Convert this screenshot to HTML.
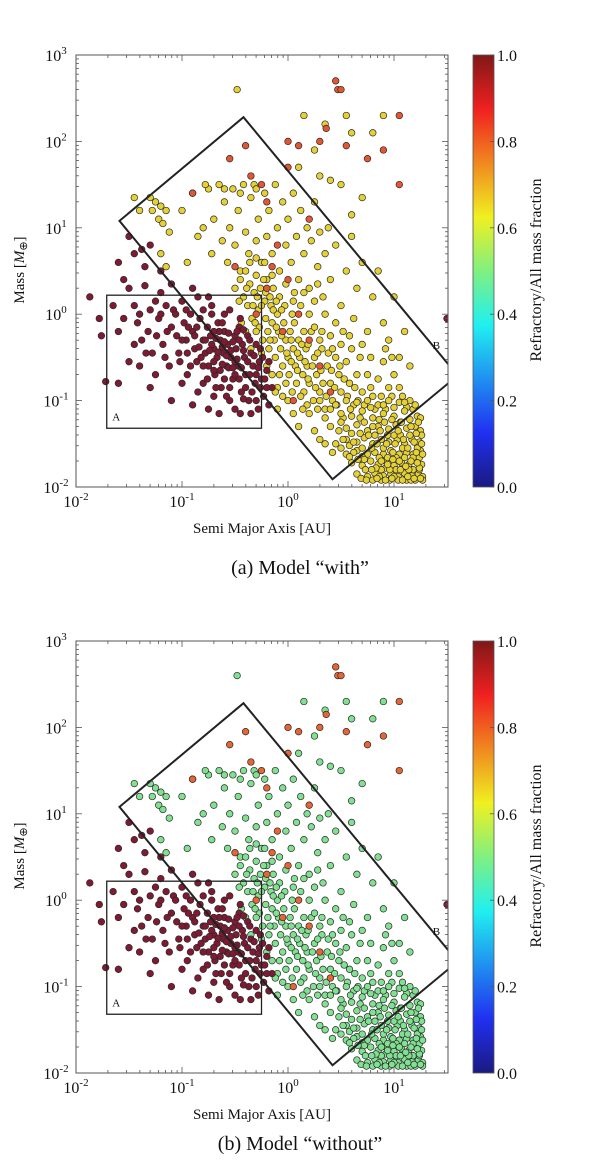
<!DOCTYPE html>
<html><head><meta charset="utf-8"><style>
html,body{margin:0;padding:0;background:#fff}
svg{display:block}
text{font-family:"Liberation Serif",serif;fill:#111}
</style></head><body>
<svg id="fig" width="600" height="1167" viewBox="0 0 600 1167" xmlns="http://www.w3.org/2000/svg">
<defs>
<linearGradient id="jet" x1="0" y1="1" x2="0" y2="0">
<stop offset="0" stop-color="#1a1a80"/><stop offset="0.125" stop-color="#2030f0"/><stop offset="0.375" stop-color="#20f0f0"/><stop offset="0.5" stop-color="#80f080"/><stop offset="0.625" stop-color="#f0f020"/><stop offset="0.875" stop-color="#f02020"/><stop offset="1" stop-color="#801818"/>
</linearGradient>
<clipPath id="clipA"><rect x="76" y="55" width="372" height="432"/></clipPath>
<clipPath id="clipB"><rect x="76" y="641" width="372" height="432"/></clipPath>
</defs>
</svg>
<script>
// data: [log10 a, log10 mass]
const redPts=[[-1.87,0.2],[-1.78,-0.05],[-1.76,-0.25],[-1.72,-0.78],[-1.6,-0.8],[-1.55,0.4],[-1.5,-0.55],[-1.45,0.1],[-1.42,-0.1],[-1.4,0.0],[-1.38,-0.3],[-1.35,0.33],[-1.32,-0.2],[-1.3,0.05],[-1.28,-0.45],[-1.25,0.15],[-1.22,-0.05],[-1.2,0.25],[-1.18,-0.35],[-1.15,0.1],[-1.12,-0.6],[-1.1,-0.15],[-1.08,0.05],[-1.05,-0.25],[-1.03,-0.45],[-1.0,0.15],[-0.98,-0.1],[-0.96,-0.3],[-0.95,-0.7],[-0.92,0.0],[-0.9,-0.2],[-0.88,-0.4],[-0.86,-0.55],[-0.85,0.2],[-0.83,-0.05],[-0.8,-0.3],[-0.8,-0.8],[-0.78,-0.45],[-0.76,-0.15],[-0.75,-0.6],[-0.73,-0.25],[-0.72,0.1],[-0.7,-0.4],[-0.69,-0.7],[-0.67,-0.5],[-0.66,-0.1],[-0.64,-0.3],[-0.63,-0.85],[-0.61,-0.45],[-0.6,-0.2],[-0.58,-0.6],[-0.57,-0.35],[-0.55,0.05],[-0.54,-0.5],[-0.52,-0.75],[-0.5,-0.25],[-0.49,-0.4],[-0.47,-0.6],[-0.46,-0.15],[-0.44,-0.9],[-0.43,-0.35],[-0.41,-0.5],[-0.4,-0.7],[-0.38,-0.25],[-0.37,-1.0],[-0.35,-0.45],[-0.33,-0.6],[-0.31,-0.8],[-0.3,-0.35],[-0.28,-1.1],[-0.27,-0.55],[-0.25,-0.75],[-0.23,-0.95],[-0.2,-0.65],[-0.18,-1.05],[-0.35,-1.15],[-0.55,-1.0],[-0.75,-1.1],[-0.9,-1.05],[-1.1,-1.0],[-1.3,-0.85],[-0.65,-1.15],[-0.45,-1.15],[-0.15,-0.85],[-0.72,-0.35],[-0.68,-0.28],[-0.62,-0.38],[-0.58,-0.48],[-0.52,-0.32],[-0.48,-0.52],[-0.42,-0.42],[-0.56,-0.62],[-0.62,-0.58],[-0.7,-0.55],[-0.78,-0.3],[-0.82,-0.5],[-0.88,-0.25],[-0.95,-0.45],[-1.0,-0.3],[-0.65,-0.2],[-0.5,-0.7],[-0.4,-0.85],[-0.34,-0.9],[-0.3,-0.7],[-0.24,-0.5],[-0.2,-0.85],[-0.45,-0.05],[-0.6,0.0],[-0.75,0.2],[-0.9,0.3],[-1.1,0.35],[-1.2,0.5],[-1.35,0.55],[-1.5,0.3],[-1.6,-0.2],[-1.65,0.1],[-1.4,-0.6],[-1.25,-0.7],[-1.0,-0.8],[-0.85,-0.9],[-0.7,-0.95],[-0.55,-0.85],[-0.6,-0.75],[-0.46,-0.75],[-1.6,0.6],[-1.5,0.9],[-1.45,0.7],[1.5,-0.05],[-1.3,0.8],[-1.38,0.75],
[-0.74,-0.42],[-0.66,-0.44],[-0.6,-0.32],[-0.54,-0.42],[-0.5,-0.55],[-0.44,-0.62],[-0.38,-0.55],[-0.36,-0.7],[-0.28,-0.62],[-0.26,-0.85],[-0.32,-0.48],[-0.46,-0.3],[-0.56,-0.22],[-0.64,-0.65],[-0.7,-0.2],[-0.8,-0.6],[-0.86,-0.15],[-0.92,-0.6],[-1.02,-0.55],[-1.06,0.0],[-1.14,-0.2],[-1.16,-0.5],[-1.24,-0.25],[-0.76,-0.75],[-0.68,-0.85],[-0.58,-0.95],[-0.42,-0.98],[-0.5,-1.1],[-0.3,-1.0],[-0.22,-0.75],[-0.48,-0.2],[-0.42,-0.18],[-0.84,-0.38],[-0.94,-0.15],[-0.96,0.05],[-1.2,0.0],[-0.62,-0.1],[-0.72,0.0],[-0.8,0.05],[-0.7,-0.65],[-0.52,-0.62],[-0.36,-0.3],[-0.26,-0.4],[-0.18,-0.55],[-1.34,-0.45],[-1.45,-0.35],[-1.55,-0.05]];
const orangePts=[[0.45,2.7],[0.47,2.6],[0.5,2.6],[0.36,2.15],[0.0,2.0],[-0.4,1.95],[-0.55,1.8],[-0.35,1.6],[-0.25,1.5],[-0.2,1.3],[0.1,1.95],[0.3,2.0],[0.55,1.95],[0.75,1.8],[0.9,1.9],[1.05,2.3],[1.05,1.5],[0.2,1.1],[-0.1,0.8],[0.0,0.4],[-0.5,0.55],[-0.2,0.3],[0.2,-0.3],[0.3,-0.6],[0.4,-0.9],[-0.05,-0.2],[0.05,-1.0],[-0.9,1.4],[0.0,1.7],[-0.15,0.55],[0.1,0.0],[-0.3,0.0]];
const yellowPts=[[-1.3,1.35],[-1.28,1.2],[-1.25,1.3],[-1.22,1.1],[-1.2,1.25],[-1.18,1.05],[-1.15,1.2],[-1.12,0.95],[-1.2,0.7],[-1.15,0.55],[-1.4,1.2],[-1.45,1.35],[-1.0,1.2],[-0.95,0.6],[-0.9,1.4],[-0.85,0.9],[-0.8,1.0],[-0.75,1.45],[-0.72,0.7],[-0.7,1.1],[-0.65,1.5],[-0.62,0.85],[-0.6,1.3],[-0.57,0.6],[-0.55,1.0],[-0.52,1.45],[-0.5,0.8],[-0.47,1.2],[-0.45,0.5],[-0.42,1.5],[-0.4,0.95],[-0.37,0.7],[-0.35,1.35],[-0.32,1.5],[-0.3,0.85],[-0.28,1.1],[-0.25,0.6],[-0.22,1.4],[-0.2,0.9],[-0.18,1.2],[-0.15,0.7],[-0.12,1.5],[-0.1,1.0],[-0.08,0.5],[-0.05,1.3],[-0.02,0.8],[0.0,1.1],[0.03,0.6],[0.05,1.4],[0.08,0.9],[0.1,0.4],[0.12,1.2],[0.15,0.7],[0.18,1.0],[0.2,0.3],[0.22,0.85],[0.25,1.3],[0.28,0.55],[0.3,0.95],[0.33,0.2],[0.35,0.7],[0.38,1.0],[0.4,0.4],[0.45,0.8],[0.5,0.1],[0.55,0.5],[0.6,0.9],[0.62,-0.05],[0.65,0.3],[0.7,0.6],[0.75,-0.2],[0.8,0.2],[0.85,0.5],[0.9,-0.1],[0.95,-0.3],[1.0,0.2],[1.05,-0.5],[1.1,-0.2],[1.15,-0.6],[0.1,1.7],[0.3,1.6],[0.5,1.5],[0.6,2.1],[0.8,2.1],[0.55,2.3],[0.15,2.3],[0.9,2.3],[0.7,1.35],[0.4,1.55],[-0.3,1.45],[-0.45,1.4],[-0.6,1.45],[-0.78,1.5],[0.6,1.15],[0.25,1.9],[0.35,2.2],[-0.48,2.6],
[-0.5,0.3],[-0.45,0.4],[-0.42,0.2],[-0.4,0.5],[-0.38,0.1],[-0.36,0.35],[-0.34,-0.05],[-0.32,0.25],[-0.3,0.45],[-0.28,0.05],[-0.27,-0.15],[-0.26,0.3],[-0.24,-0.3],[-0.22,0.15],[-0.21,-0.05],[-0.2,0.4],[-0.19,-0.2],[-0.18,-0.4],[-0.16,0.1],[-0.15,-0.1],[-0.14,0.3],[-0.13,-0.3],[-0.12,-0.5],[-0.1,0.0],[-0.09,-0.2],[-0.08,0.2],[-0.07,-0.4],[-0.05,-0.6],[-0.04,-0.1],[-0.03,0.1],[-0.02,-0.3],[0.0,-0.5],[0.01,-0.7],[0.02,-0.2],[0.04,0.0],[0.05,-0.4],[0.07,-0.6],[0.08,-0.8],[0.1,-0.3],[0.11,-0.5],[0.12,0.1],[0.14,-0.7],[0.15,-0.9],[0.17,-0.4],[0.18,-0.6],[0.2,-0.8],[0.22,-0.2],[0.24,-1.0],[0.25,-0.5],[0.27,-0.7],[0.3,-0.9],[0.32,-0.4],[0.35,-1.1],[0.37,-0.6],[0.4,-0.8],[0.42,-1.0],[0.45,-0.5],[0.48,-0.7],[0.5,-0.9],[0.52,-1.2],[-0.2,-0.6],[-0.25,-0.45],[-0.15,-0.7],[-0.1,-0.85],[-0.05,-0.95],[-0.3,-0.2],[-0.35,-0.4],[-0.4,-0.2],[-0.1,-1.1],[0.0,-1.0],[0.05,-1.15],[-0.02,0.35],[0.06,0.25],[0.15,-0.2],[0.2,0.0],[0.25,-0.15],[0.3,-0.3],[0.35,0.0],[0.4,-0.25],[0.45,-0.1],[0.5,-0.35],[0.55,-0.55],[0.6,-0.4],[0.65,-0.7],[0.7,-0.9],[0.58,-0.8],[0.62,-1.05],[0.68,-0.5],[0.75,-0.7],[0.8,-0.95],[0.85,-0.75],[0.9,-0.55],[1.0,-0.7],[1.05,-0.85],[0.95,-0.85],
[-0.46,0.15],[-0.44,-0.1],[-0.39,0.3],[-0.33,0.1],[-0.31,-0.1],[-0.29,0.2],[-0.25,0.1],[-0.23,0.4],[-0.21,0.25],[-0.17,-0.3],[-0.17,0.2],[-0.14,0.05],[-0.11,-0.15],[-0.11,0.15],[-0.06,-0.25],[-0.06,0.05],[-0.01,-0.45],[0.03,-0.55],[0.03,-0.3],[0.06,-0.1],[0.09,-0.45],[0.09,-0.65],[0.13,-0.35],[0.16,-0.55],[0.19,-0.75],[0.19,-0.35],[0.23,-0.6],[0.26,-0.85],[0.28,-0.45],[0.31,-0.65],[0.33,-0.8],[0.36,-0.95],[0.38,-0.45],[0.41,-0.65],[0.44,-0.85],[0.46,-1.05],[0.49,-0.6],[0.53,-0.75],[0.56,-0.95],[0.59,-1.1],[0.63,-0.85],[0.66,-1.0],[0.72,-1.05],[0.78,-0.85],[0.82,-1.1],[0.88,-0.95],[0.92,-1.1],[0.98,-0.95],[1.08,-0.95],[1.12,-1.08],[1.18,-1.1],[-0.08,-0.7],[-0.12,-0.9],[-0.02,-0.8],[0.04,-0.9],[0.12,-0.95],[0.18,-1.05],[0.28,-1.1],[0.14,-1.1],[0.32,-0.2],[0.42,-0.4],[0.52,-0.2],[0.58,-0.25],[0.7,-0.35],[0.78,-0.5],[0.92,-0.4],[0.98,-0.5],[0.15,0.25],[0.25,0.15],[0.28,0.35],[0.05,0.15],[-0.36,0.6],[-0.3,0.65],[-0.22,0.6],[-0.15,0.45],
[0.3,-1.0],[0.45,-1.05],[0.55,-1.0],[0.65,-1.02],[0.75,-1.0],[0.85,-1.05],[0.95,-1.0],[1.05,-1.02],[1.15,-1.0],[1.2,-1.05],[0.2,-1.15],[0.35,-1.2],[0.5,-1.15],[0.6,-1.18],[0.7,-1.12],[0.8,-1.2],[0.9,-1.15],[1.0,-1.18],[1.1,-1.12],[1.22,-1.18],[0.1,-1.3],[0.25,-1.35],[0.4,-1.3],[0.55,-1.32],[0.65,-1.28],[0.75,-1.35],[0.85,-1.3],[0.95,-1.33],[1.02,-1.28],[1.12,-1.32],[1.2,-1.3],[1.25,-1.35],[0.3,-1.45],[0.45,-1.5],[0.55,-1.45],[0.65,-1.48],[0.72,-1.43],[0.8,-1.5],[0.88,-1.45],[0.95,-1.48],[1.03,-1.45],[1.1,-1.5],[1.17,-1.45],[1.24,-1.48],[0.42,-1.6],[0.55,-1.62],[0.65,-1.58],[0.75,-1.62],[0.82,-1.6],[0.9,-1.62],[0.97,-1.58],[1.05,-1.62],[1.12,-1.6],[1.18,-1.62],[1.25,-1.58],[0.6,-1.72],[0.7,-1.75],[0.78,-1.7],[0.85,-1.74],[0.92,-1.7],[1.0,-1.75],[1.07,-1.72],[1.14,-1.74],[1.2,-1.7],[1.26,-1.74],[0.65,-1.85],[0.75,-1.88],[0.82,-1.84],[0.9,-1.87],[0.97,-1.85],[1.04,-1.88],[1.1,-1.84],[1.17,-1.87],[1.23,-1.85],[1.27,-1.88],[0.8,-1.92],[0.88,-1.92],[0.96,-1.92],[1.04,-1.92],[1.12,-1.92],[1.2,-1.92],[1.27,-1.92],[0.82,-1.4],[0.9,-1.55],[1.0,-1.4],[1.08,-1.55],[1.15,-1.4],[1.22,-1.55],[0.92,-1.78],[1.02,-1.8],[1.1,-1.66],[1.18,-1.8],[0.7,-1.55],[0.6,-1.38],[0.5,-1.25],[0.4,-1.1],[0.35,-1.5],[0.5,-1.55],[1.25,-1.2],[1.15,-1.22],[0.98,-1.22],[0.78,-1.08],[0.86,-1.66],[0.94,-1.66],[1.02,-1.66],[1.18,-1.66],[0.88,-1.8],[0.96,-1.8],[1.06,-1.8],[1.14,-1.8],[1.24,-1.8],[0.86,-1.88],[1.0,-1.88],[1.08,-1.92],[1.16,-1.92],[0.92,-1.92],[1.24,-1.66],[1.26,-1.4],[1.06,-1.4],[0.94,-1.4],[0.76,-1.4],[0.68,-1.2],[0.86,-1.22],[1.06,-1.25],[0.7,-1.65],[0.62,-1.6],[0.58,-1.52],
[0.79,-1.55],[0.84,-1.5],[0.87,-1.35],[0.91,-1.25],[0.93,-1.5],[0.99,-1.6],[1.01,-1.5],[1.04,-1.35],[1.07,-1.25],[1.09,-1.45],[1.13,-1.55],[1.16,-1.3],[1.19,-1.48],[1.21,-1.38],[1.23,-1.25],[1.26,-1.5],[1.27,-1.62],[1.21,-1.6],[1.16,-1.7],[1.11,-1.76],[1.05,-1.7],[0.99,-1.68],[0.94,-1.74],[0.88,-1.7],[0.83,-1.78],[0.79,-1.8],[0.73,-1.8],[0.69,-1.9],[0.74,-1.92],[0.84,-1.9],[0.98,-1.9],[1.13,-1.88],[1.19,-1.9],[1.25,-1.9],[1.24,-1.78],[1.22,-1.72],[0.72,-1.68],[0.66,-1.68],[0.58,-1.65],[0.52,-1.45],[0.48,-1.35],[0.62,-1.48],[0.68,-1.38],[0.72,-1.25],[0.8,-1.3],[0.9,-1.05],[1.0,-1.08],[1.1,-1.02]];
const groupFracA=[0.645,1.0,0.8];
const groupFracB=[0.5,1.0,0.78];
const xTicks=[-2,-1,0,1];
const yTicks=[-2,-1,0,1,2,3];
const cbTicks=[0.0,0.2,0.4,0.6,0.8,1.0];

const NS='http://www.w3.org/2000/svg';
const svg=document.getElementById('fig');
const X=la=>76+(la+2)*106;
const Y=(lm,off)=>off+55+(3-lm)*86.4;
function jet(v){
  const c=t=>Math.max(0,Math.min(1,t));
  const r=c(1.5-Math.abs(4*v-3)),g=c(1.5-Math.abs(4*v-2)),b=c(1.5-Math.abs(4*v-1));
  return 'rgb('+Math.round(r*205+25)+','+Math.round(g*200+25)+','+Math.round(b*190+50)+')';
}
function mk(tag,attrs,parent){const e=document.createElementNS(NS,tag);for(const k in attrs)e.setAttribute(k,attrs[k]);(parent||svg).appendChild(e);return e;}
function txt(x,y,s,size,anchor,parent){const t=mk('text',{x:x,y:y,'font-size':size,'text-anchor':anchor||'middle'},parent);t.textContent=s;return t;}
function pow(x,y,e,parent){const t=mk('text',{x:x,y:y,'font-size':16,'text-anchor':'middle'},parent);
  const a=document.createElementNS(NS,'tspan');a.textContent='10';t.appendChild(a);
  const b=document.createElementNS(NS,'tspan');b.setAttribute('dy','-7');b.setAttribute('font-size','11');b.textContent=String(e);t.appendChild(b);return t;}

function panel(off,fracs,caption,capY,name){
  const g=mk('g',{});
  
  
  const pts=mk('g',{'clip-path':'url(#'+(off?'clipB':'clipA')+')'},g);
  
  
  [yellowPts,redPts,orangePts].forEach((arr,gi)=>{
    const col=jet(fracs[gi]);
    arr.forEach(p=>{
      const c=mk('circle',{cx:X(p[0]).toFixed(1),cy:Y(p[1],off).toFixed(1),r:3.3,fill:col,stroke:'#2a2a2a','stroke-width':0.7},pts);
      
      
    });
  });
  const boxA=mk('rect',{x:X(-1.71),y:Y(0.22,off),width:X(-0.25)-X(-1.71),height:Y(-1.32,off)-Y(0.22,off),fill:'none',stroke:'#222','stroke-width':1.3},g);
  
  
  const v=[[-1.59,1.08],[-0.42,2.28],[1.6,-0.71],[0.42,-1.91]];
  const boxB=mk('polygon',{points:v.map(p=>X(p[0])+','+Y(p[1],off)).join(' '),fill:'none',stroke:'#222','stroke-width':2,'clip-path':'url(#'+(off?'clipB':'clipA')+')'},g);
  
  
  const la=txt(X(-1.62),Y(-1.23,off),'A',11,'middle',g);
  
  
  const lb=txt(X(1.4),Y(-0.4,off),'B',11,'middle',g);
  
  
  const fr=mk('rect',{x:76,y:off+55,width:372,height:432,fill:'none',stroke:'#555','stroke-width':1},g);
  
  
  const tk=mk('g',{stroke:'#555','stroke-width':0.8},g);
  for(let d=-2;d<=1;d++){for(let k=1;k<=9;k++){const la2=d+Math.log10(k);if(la2>1.51)break;const x=X(la2);const L=k===1?6:3;
    mk('line',{x1:x,y1:off+487,x2:x,y2:off+487-L},tk);mk('line',{x1:x,y1:off+55,x2:x,y2:off+55+L},tk);}}
  for(let d=-2;d<=2;d++){for(let k=1;k<=9;k++){const y=Y(d+Math.log10(k),off);const L=k===1?6:3;
    mk('line',{x1:76,y1:y,x2:76+L,y2:y},tk);mk('line',{x1:448,y1:y,x2:448-L,y2:y},tk);}}
  xTicks.forEach(e=>{const t=pow(X(e),off+507,e,g);});
  yTicks.forEach(e=>{const t=pow(56,Y(e,off)+6,e,g);});
  const xl=txt(262,off+533,'Semi Major Axis [AU]',15,'middle',g);
  
  
  const yl=mk('text',{x:0,y:0,'font-size':15,'text-anchor':'middle',transform:'translate(24,'+(off+270)+') rotate(-90)'},g);
  yl.innerHTML='Mass [<tspan font-style="italic">M</tspan><tspan font-size="11" dy="3">⊕</tspan><tspan dy="-3">]</tspan>';
  
  
  const cb=mk('rect',{x:473,y:off+55,width:21,height:432,fill:'url(#jet)',stroke:'#555','stroke-width':0.8},g);
  
  
  cbTicks.forEach(v2=>{const y=off+487-v2*432;
    mk('line',{x1:494,y1:y,x2:490,y2:y,stroke:'#555','stroke-width':0.8},g);
    const t=txt(497,y+6,v2.toFixed(1),16,'start',g);
    
    });
  const cl=mk('text',{x:0,y:0,'font-size':16,'text-anchor':'middle',transform:'translate(541,'+(off+270)+') rotate(-90)'},g);
  cl.textContent='Refractory/All mass fraction';
  
  
  const cap=txt(300,capY,caption,20,'middle',g);
  
  
}
panel(0,groupFracA,'(a) Model “with”',574,'panel-a');
panel(586,groupFracB,'(b) Model “without”',1150,'panel-b');
</script>
</body></html>
